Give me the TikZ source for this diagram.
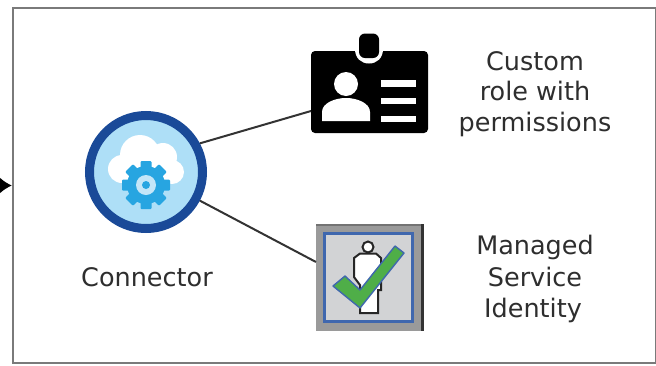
\documentclass[tikz,border=0pt]{standalone}
\usepackage{fontspec}
\setmainfont{DejaVu Sans}
\usetikzlibrary{arrows.meta}
\definecolor{framegrey}{HTML}{7A7A7A}
\definecolor{ringblue}{HTML}{1A4A98}
\definecolor{skyblue}{HTML}{AEDFF7}
\definecolor{gearblue}{HTML}{27A5E1}
\definecolor{gearhole}{HTML}{C4E6F8}
\definecolor{badgegrey}{HTML}{9A9A9A}
\definecolor{paneblue}{HTML}{3F67AE}
\definecolor{panegrey}{HTML}{D2D3D5}
\definecolor{tickgreen}{HTML}{4FAE48}
\definecolor{inktext}{HTML}{2E2E2E}
\tikzset{
  label text/.style={font=\fontsize{25.5}{31}\selectfont,text=inktext,anchor=base,inner sep=0pt},
  link/.style={draw=black!80,line width=2pt},
  panel/.style={draw=framegrey,line width=2.4pt,fill=white,inner sep=0pt,minimum width=643pt,minimum height=355pt},
}
\begin{document}
\begin{tikzpicture}[x=1pt,y=-1pt]
\useasboundingbox (0,0) rectangle (656,365);
\clip (0,0) rectangle (656,365);
\fill[white] (0,0) rectangle (656,365);
\coordinate (entry) at (-20,185.5);
\node[panel] (frame) at (334.5,185.5) {};
\draw[black,line width=2pt,-{Latex[length=13pt,width=18pt]}] (entry) -- (frame.west);
% nodes for the three icons
\node[circle,fill=skyblue,draw=ringblue,line width=9pt,minimum size=113pt,inner sep=0pt] (conn) at (146,172) {};
\node[rectangle,fill=black,rounded corners=4pt,minimum width=117pt,minimum height=82pt,inner sep=0pt] (card) at (369.5,92) {};
\node[rectangle,fill=badgegrey,minimum width=108pt,minimum height=107pt,inner sep=0pt] (badge) at (370,277.5) {};
\coordinate (cardpin) at (311,111);
\coordinate (badgepin) at (316,262);
\draw[link] (conn.28) -- (cardpin);
\draw[link] (conn.-28) -- (badgepin);
% cloud
\fill[white] (140,155) circle[radius=20pt] (163,157) circle[radius=14pt]
  (122,169) circle[radius=14pt] (172,172) circle[radius=12pt]
  (122,160) rectangle (172,183);
% gear
\fill[gearblue] (146,185) circle[radius=19pt];
\foreach \a in {0,45,...,315}{
  \fill[gearblue,shift={(146,185)},rotate=\a,rounded corners=1pt] (-5.5,-24) rectangle (5.5,0);
}
\fill[gearhole] (146,185) circle[radius=10pt];
\fill[gearblue] (146,185) circle[radius=4pt];
% id card
\fill[white] (355,49) .. controls (355,58) and (361,63.5) .. (369,63.5) .. controls (377,63.5) and (383,58) .. (383,49) -- cycle;
\fill[black,rounded corners=6pt] (359,33.5) rectangle (379,58);
\fill[white] (346,84) circle[radius=12pt];
\fill[white] (322,121) -- (322,112) .. controls (322,103) and (335,98) .. (346,98) .. controls (357,98) and (370,103) .. (370,112) -- (370,121) -- cycle;
\fill[white] (381,80) rectangle (416,87);
\fill[white] (381,98) rectangle (416,104);
\fill[white] (381,116) rectangle (416,122);
% badge
\fill[black!55] (316,224) rectangle (424,226);
\fill[black!80] (421,224) rectangle (424,331);
\draw[paneblue,line width=2.6pt,fill=panegrey] (324.5,233.5) rectangle (412.5,321.5);
\draw[black!85,line width=2pt,fill=white] (368,247) circle[radius=5.5pt];
\draw[black!85,line width=2pt,fill=white] (360,253.5) -- (376,253.5) -- (381,258) -- (381,290) -- (378,290) -- (378,313) -- (360,313) -- (360,285) -- (354,277) -- (354,258) -- cycle;
\draw[paneblue,line width=1.4pt,fill=tickgreen,line join=round] (333,286) -- (345,276) -- (360,290) -- (395,246) -- (404,253) -- (360,308) -- cycle;
% labels
\node[label text] (lconn) at (147,286) {Connector};
\node[label text] (lrole1) at (535,70) {Custom};
\node[label text] (lrole2) at (535,100) {role with};
\node[label text] (lrole3) at (535,131) {permissions};
\node[label text] (lmsi1) at (535,254) {Managed};
\node[label text] (lmsi2) at (535,286) {Service};
\node[label text] (lmsi3) at (533,317) {Identity};
\end{tikzpicture}
\end{document}
